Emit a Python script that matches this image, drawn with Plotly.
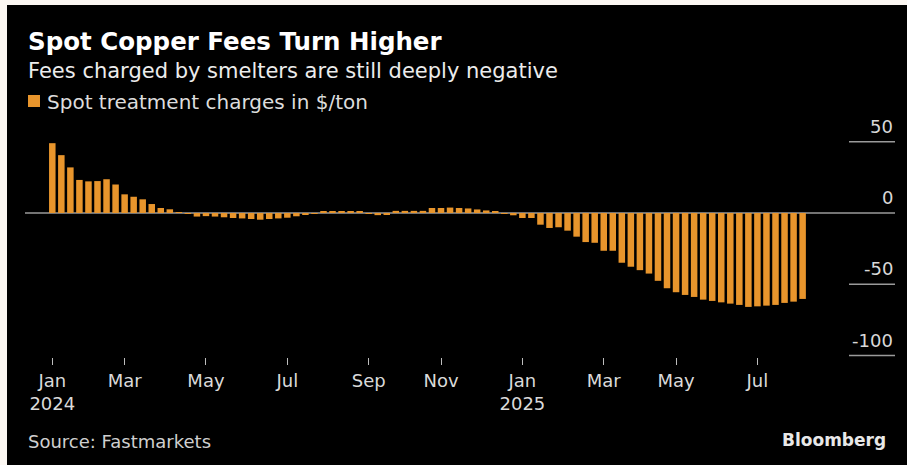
import pandas as pd
import plotly.graph_objects as go

# ---- data ----
week_dates = pd.date_range("2024-01-05", periods=84, freq="W-FRI").strftime("%Y-%m-%d").tolist()

spot_tc = [
    49.0, 40.6, 32.0, 23.2, 22.2, 22.4, 23.7, 20.0, 13.1, 11.4,
    9.6, 6.3, 3.5, 2.6, 0.3, -0.3, -2.5, -2.2, -2.5, -3.0,
    -3.5, -3.8, -4.2, -4.7, -4.2, -3.8, -3.3, -2.3, -1.4, -0.3,
    1.0, 1.0, 1.0, 1.0, 0.8, -0.3, -1.5, -1.2, 1.5, 1.5,
    1.5, 1.5, 3.5, 3.5, 3.8, 3.5, 3.2, 2.5, 1.8, 1.0,
    -0.3, -1.6, -3.5, -3.5, -8.2, -10.5, -10.0, -12.4, -16.6, -20.4,
    -20.9, -26.5, -26.5, -34.9, -37.7, -40.1, -42.5, -47.6, -52.8, -55.6,
    -57.5, -58.9, -60.8, -61.7, -62.7, -63.6, -64.5, -65.9, -65.5, -65.0,
    -64.5, -63.1, -62.2, -60.3,
]

x_tick_dates = ["2024-01-05", "2024-03-01", "2024-05-03", "2024-07-05", "2024-09-06",
                "2024-11-01", "2025-01-03", "2025-03-07", "2025-05-02", "2025-07-04"]
x_tick_text = ["Jan<br>2024", "Mar", "May", "Jul", "Sep", "Nov", "Jan<br>2025", "Mar", "May", "Jul"]

y_ticks = [50, 0, -50, -100]
y_tick_text = ["50", "0", "-50", "-100"]

title = "Spot Copper Fees Turn Higher"
subtitle = "Fees charged by smelters are still deeply negative"
legend_label = "Spot treatment charges in $/ton"
source = "Source: Fastmarkets"
brand = "Bloomberg"

# ---- style / layout helpers ----
W, H = 907, 465
ML, MR, MT, MB = 25, 12, 135, 108
PW, PH = W - ML - MR, H - MT - MB
ORANGE = "#e8952c"
FONT = "DejaVu Sans"


def px_x(x):
    return (x - ML) / PW


def px_y(y):
    return (H - MB - y) / PH


fig = go.Figure()
fig.add_trace(go.Bar(x=week_dates, y=spot_tc, marker_color=ORANGE,
                     marker_line_width=0, name=legend_label, showlegend=False))

shapes = [
    # cream frame + black panel
    dict(type="rect", xref="paper", yref="paper", x0=px_x(7), x1=px_x(W + 5),
         y0=px_y(H + 5), y1=px_y(5), fillcolor="#000000", line_width=0, layer="below"),
    # legend swatch
    dict(type="rect", xref="paper", yref="paper", x0=px_x(28), x1=px_x(40),
         y0=px_y(107), y1=px_y(95), fillcolor=ORANGE, line_width=0),
]
annotations = []
for v, t in zip(y_ticks, y_tick_text):
    x0 = 0 if v == 0 else px_x(849)
    shapes.append(dict(type="line", xref="paper", yref="y", x0=x0, x1=1, y0=v, y1=v,
                       line=dict(color="#9a9a9a", width=1.5), layer="below"))
    annotations.append(dict(text=t, xref="paper", yref="y", x=1, y=v, xanchor="right",
                            yanchor="bottom", yshift=3, showarrow=False,
                            font=dict(family=FONT, size=18, color="#d8d8d8")))

annotations += [
    dict(text="<b>" + title + "</b>", xref="paper", yref="paper", x=px_x(26), y=px_y(41.5),
         xanchor="left", yanchor="middle", showarrow=False,
         font=dict(family=FONT, size=24.5, color="#ffffff")),
    dict(text=subtitle, xref="paper", yref="paper", x=px_x(26), y=px_y(71),
         xanchor="left", yanchor="middle", showarrow=False,
         font=dict(family=FONT, size=21, color="#ececec")),
    dict(text=legend_label, xref="paper", yref="paper", x=px_x(45), y=px_y(101.5),
         xanchor="left", yanchor="middle", showarrow=False,
         font=dict(family=FONT, size=20, color="#dddddd")),
    dict(text=source, xref="paper", yref="paper", x=px_x(26), y=px_y(441),
         xanchor="left", yanchor="middle", showarrow=False,
         font=dict(family=FONT, size=18, color="#cfcfcf")),
    dict(text="<b>" + brand + "</b>", xref="paper", yref="paper", x=px_x(888), y=px_y(440),
         xanchor="right", yanchor="middle", showarrow=False,
         font=dict(family=FONT, size=17, color="#e8e8e8")),
]

fig.update_layout(
    width=W, height=H,
    margin=dict(l=ML, r=MR, t=MT, b=MB),
    paper_bgcolor="#fcf8f3", plot_bgcolor="rgba(0,0,0,0)",
    bargap=0.28,
    shapes=shapes, annotations=annotations,
    xaxis=dict(type="category", range=[-3.02, 93.22], tickmode="array",
               tickvals=x_tick_dates, ticktext=x_tick_text, ticks="outside",
               ticklen=7, tickwidth=1, tickcolor="#bdbdbd", showgrid=False,
               showline=False, zeroline=False,
               tickfont=dict(family=FONT, size=18, color="#dadada")),
    yaxis=dict(range=[-101.05, 54.74], showgrid=False, zeroline=False,
               showticklabels=False, ticks=""),
)

fig.write_html("out.html", config={"displayModeBar": False},
               post_script="document.body.style.margin='0';document.body.style.overflow='hidden';")
